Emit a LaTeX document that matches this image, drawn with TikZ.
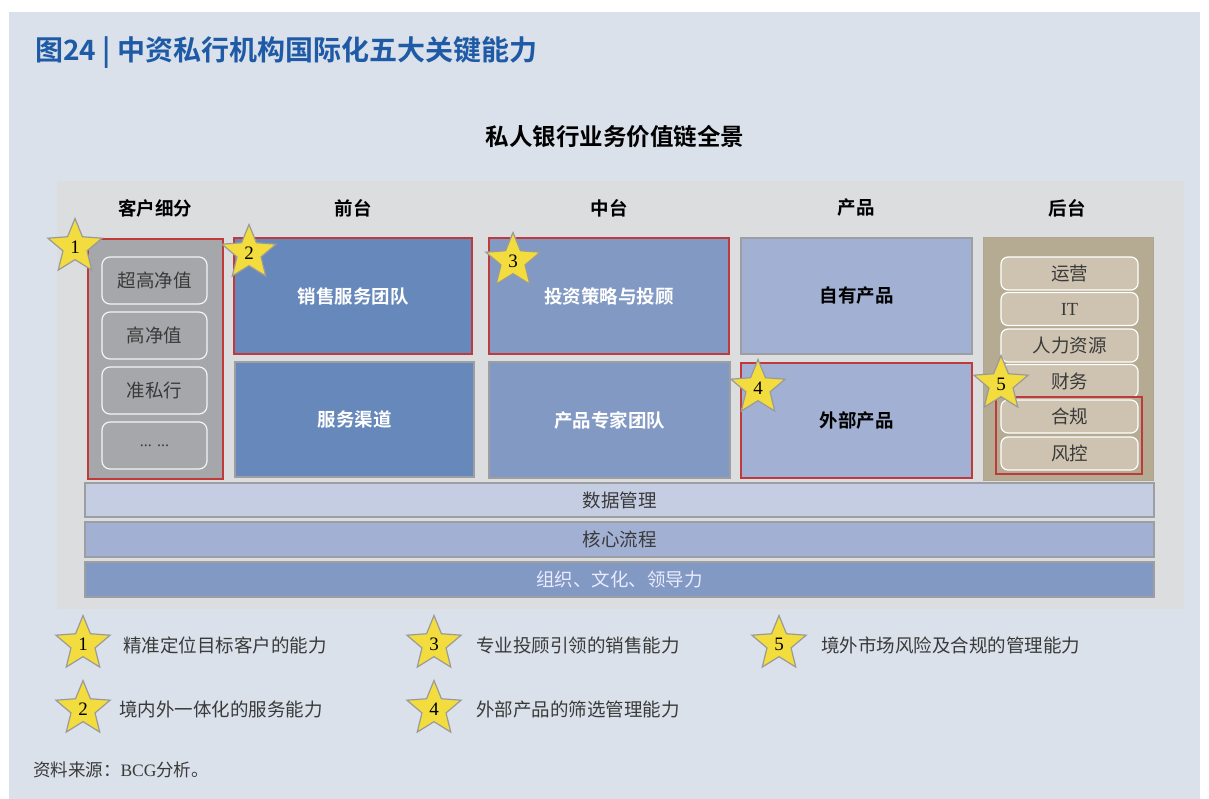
\documentclass[tikz,border=0pt]{standalone}
\usepackage{fontspec}
\setmainfont{Liberation Serif}
\newfontfamily\cjk[BoldFont={Noto Sans CJK SC Bold}]{Noto Sans CJK SC}
\usetikzlibrary{shapes.geometric}
\definecolor{pagebg}{HTML}{DAE1EA}
\definecolor{panelbg}{HTML}{DCDDDF}
\definecolor{titleblue}{HTML}{1F5AA6}
\definecolor{redline}{HTML}{C0393B}
\definecolor{custgray}{HTML}{A6A7AA}
\definecolor{frontblue}{HTML}{6788BA}
\definecolor{midblue}{HTML}{8299C4}
\definecolor{prodblue}{HTML}{A2B1D3}
\definecolor{datablue}{HTML}{C5CDE3}
\definecolor{backtan}{HTML}{B5AA92}
\definecolor{backitem}{HTML}{CEC3B0}
\definecolor{txtgray}{HTML}{3A3A3A}
\definecolor{stary}{HTML}{F2DC3E}
\definecolor{starb}{HTML}{9A9A9A}
\definecolor{boxgray}{HTML}{9C9EA2}
\tikzset{
  base/.style={inner sep=0pt, outer sep=0pt},
  bigbox/.style={base, draw=boxgray, line width=1.2pt},
  redbox/.style={draw=redline, line width=1.3pt},
  lbl/.style={font=\cjk\bfseries\fontsize{18.5}{20}\selectfont},
  hdr/.style={base, font=\cjk\bfseries\fontsize{18.5}{20}\selectfont, text=black},
  custitem/.style={base, draw=white!92!gray, line width=1.2pt, rounded corners=8pt, fill=custgray,
    minimum width=105pt, minimum height=47pt, text=txtgray, font=\cjk\fontsize{18.5}{20}\selectfont},
  backbox/.style={base, draw=white, line width=1.2pt, rounded corners=7pt, fill=backitem,
    minimum width=137pt, minimum height=33pt, text=txtgray, font=\cjk\fontsize{18.5}{20}\selectfont},
  bar/.style={base, draw=boxgray, line width=1.2pt, minimum width=1069pt, minimum height=34pt,
    font=\cjk\fontsize{18.5}{20}\selectfont},
  starmark/.style={star, star points=5, star point ratio=2.25, minimum size=57pt, inner sep=0pt,
    fill=stary, draw=starb, line width=1.2pt, font=\fontsize{19}{20}\selectfont, text=black},
  legtxt/.style={base, anchor=west, text=txtgray, font=\cjk\fontsize{18.5}{20}\selectfont},
}
\begin{document}
\begin{tikzpicture}[x=1pt, y=-1pt]
\useasboundingbox (0,0) rectangle (1209,799);
\fill[white] (0,0) rectangle (1209,799);
\fill[pagebg] (9,12) rectangle (1200,799);
\fill[panelbg] (57,181) rectangle (1184,609);

% titles
\node[base, anchor=west, text=titleblue, font=\cjk\bfseries\fontsize{28}{30}\selectfont] (title) at (35,53) {图24 | 中资私行机构国际化五大关键能力};
\node[base, font=\cjk\bfseries\fontsize{23.5}{26}\selectfont] (sub) at (615,137) {私人银行业务价值链全景};

% column headers
\node[hdr] (h1) at (155,208) {客户细分};
\node[hdr] (h2) at (353,208) {前台};
\node[hdr] (h3) at (609,208) {中台};
\node[hdr] (h4) at (856,208) {产品};
\node[hdr] (h5) at (1067,208) {后台};

% customer segmentation
\node[base, fill=custgray, redbox, minimum width=135pt, minimum height=240pt] (cust) at (155.5,359) {};
\node[custitem] (c1) at (154.5,280.5) {超高净值};
\node[custitem] (c2) at (154.5,335.5) {高净值};
\node[custitem] (c3) at (154.5,390.5) {准私行};
\node[custitem, font=\fontsize{16}{18}\selectfont] (c4) at (154.5,445.5) {... ...};

% front office
\node[base, fill=frontblue, redbox, minimum width=238pt, minimum height=116pt, lbl, text=white] (sales) at (353,296) {销售服务团队};
\node[bigbox, fill=frontblue, minimum width=239pt, minimum height=115pt, lbl, text=white] (chan) at (354.5,419.5) {服务渠道};

% middle office
\node[base, fill=midblue, redbox, minimum width=240pt, minimum height=116pt, lbl, text=white] (inv) at (609,296) {投资策略与投顾};
\node[bigbox, fill=midblue, minimum width=241pt, minimum height=116pt, lbl, text=white] (pexp) at (609.5,420) {产品专家团队};

% products
\node[bigbox, fill=prodblue, minimum width=231pt, minimum height=116pt, lbl, text=black] (own) at (856.5,296) {自有产品};
\node[base, fill=prodblue, redbox, minimum width=231pt, minimum height=115pt, lbl, text=black] (ext) at (856.5,420.5) {外部产品};

% back office
\node[base, fill=backtan, minimum width=170pt, minimum height=243pt, draw=backtan!90!gray, line width=0.8pt] (back) at (1068,358.5) {};
\node[backbox] (b1) at (1069.5,273.5) {运营};
\node[backbox, font=\fontsize{18.5}{20}\selectfont] (b2) at (1069.5,309) {IT};
\node[backbox] (b3) at (1069.5,345.5) {人力资源};
\node[backbox] (b4) at (1069.5,381) {财务};
\node[backbox] (b5) at (1069.5,416.5) {合规};
\node[backbox] (b6) at (1069.5,453.5) {风控};
\node[base, redbox, minimum width=146pt, minimum height=77pt] (comp) at (1069,435.5) {};

% bars
\node[bar, fill=datablue, text=txtgray] (data) at (619.5,500) {数据管理};
\node[bar, fill=prodblue, text=txtgray, minimum height=35pt] (core) at (619.5,539.5) {核心流程};
\node[bar, fill=midblue, text=white!92!blue, minimum height=35pt] (org) at (619.5,579.5) {组织、文化、领导力};

% stars on diagram
\node[starmark] (s1) at (75,247) {1};
\node[starmark] (s2) at (249,253) {2};
\node[starmark] (s3) at (513,261) {3};
\node[starmark] (s4) at (758,388) {4};
\node[starmark] (s5) at (1001,384) {5};

% legend
\node[starmark] (l1) at (83,644) {1};
\node[legtxt] (t1) at (123,645) {精准定位目标客户的能力};
\node[starmark] (l2) at (83,709) {2};
\node[legtxt] (t2) at (119,709) {境内外一体化的服务能力};
\node[starmark] (l3) at (434,644) {3};
\node[legtxt] (t3) at (476,645) {专业投顾引领的销售能力};
\node[starmark] (l4) at (434,709) {4};
\node[legtxt] (t4) at (476,709) {外部产品的筛选管理能力};
\node[starmark] (l5) at (779,644) {5};
\node[legtxt] (t5) at (821,645) {境外市场风险及合规的管理能力};

% source
\node[base, anchor=west, text=txtgray, font=\fontsize{17.5}{20}\selectfont] (src) at (33,770) {{\cjk 资料来源：}BCG{\cjk 分析。}};
\end{tikzpicture}
\end{document}
